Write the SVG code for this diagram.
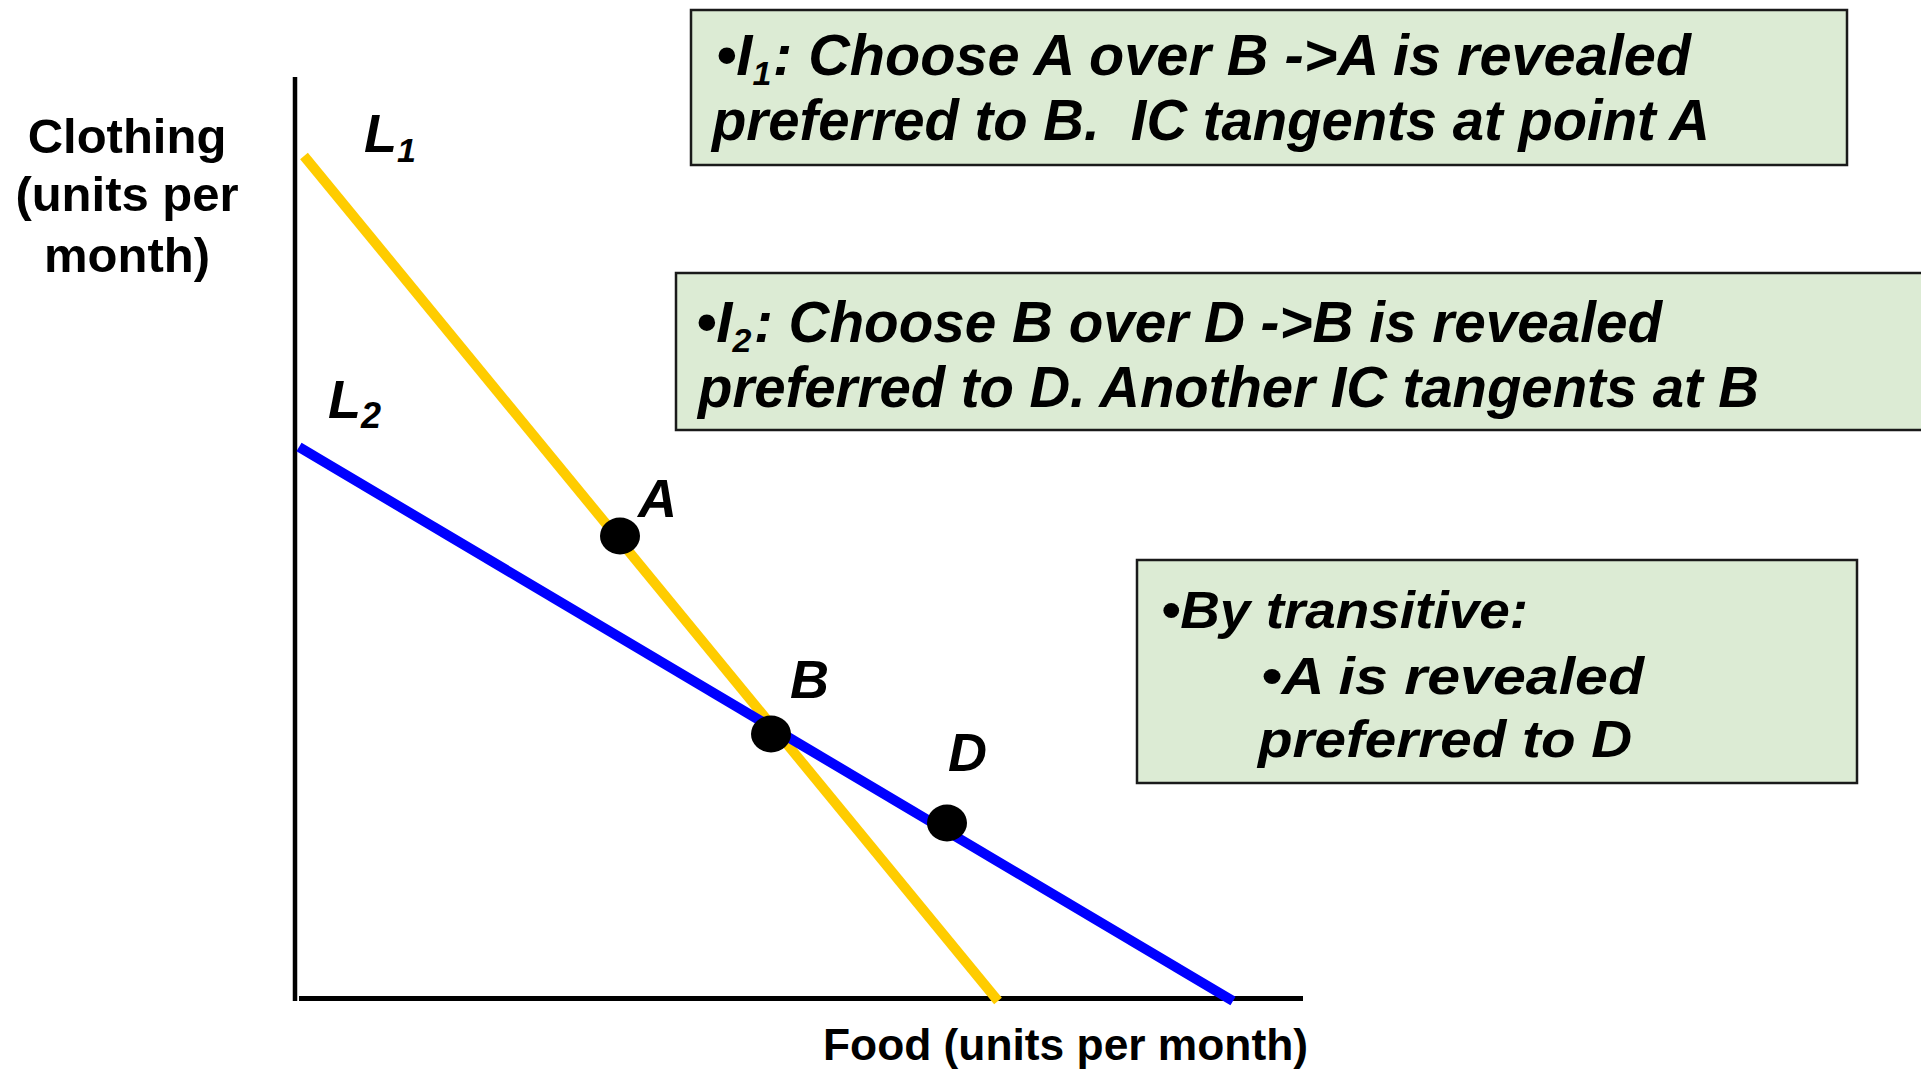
<svg xmlns="http://www.w3.org/2000/svg" width="1921" height="1080" viewBox="0 0 1921 1080">
<style>
.box{fill:#DCEBD4;stroke:#1a1a1a;stroke-width:2.5}
.bt{font-family:"Liberation Sans",Arial,sans-serif;font-weight:bold;font-style:italic;fill:#000}
.ax{font-family:"Liberation Sans",Arial,sans-serif;font-weight:bold;fill:#000}
.dot{fill:#000}
</style>
<rect width="1921" height="1080" fill="#fff"/>
<g id="axes">
<line x1="295" y1="77" x2="295" y2="1001" stroke="#000" stroke-width="4.5"/>
<line x1="299" y1="998.5" x2="1303" y2="998.5" stroke="#000" stroke-width="5"/>
<text class="ax" font-size="49" text-anchor="middle" x="127" y="153">Clothing</text>
<text class="ax" font-size="49" text-anchor="middle" x="127" y="211">(units per</text>
<text class="ax" font-size="49" text-anchor="middle" x="127" y="272">month)</text>
<text class="ax" font-size="44" x="823" y="1060" textLength="485" lengthAdjust="spacingAndGlyphs">Food (units per month)</text>
</g>
<g id="connectors">
<line id="L1" x1="304" y1="156" x2="998" y2="1001" stroke="#FFCC00" stroke-width="10"/>
<line id="L2" x1="299" y1="447" x2="1233" y2="1001" stroke="#0000FF" stroke-width="10"/>
</g>
<g id="label-L1">
<text class="bt" font-size="54" x="364" y="152">L<tspan font-size="34" dy="10">1</tspan></text>
</g>
<g id="label-L2">
<text class="bt" font-size="54" x="328" y="418">L<tspan font-size="36" dy="10">2</tspan></text>
</g>
<g id="point-A">
<ellipse class="dot" cx="620" cy="536" rx="20" ry="18.5"/>
<text class="bt" font-size="54" x="638" y="517">A</text>
</g>
<g id="point-B">
<ellipse class="dot" cx="771" cy="734" rx="20" ry="18.5"/>
<text class="bt" font-size="54" x="790" y="698">B</text>
</g>
<g id="point-D">
<ellipse class="dot" cx="947" cy="823" rx="20" ry="18.5"/>
<text class="bt" font-size="54" x="948" y="771">D</text>
</g>
<g id="box-I1">
<rect class="box" x="691" y="10" width="1156" height="155"/>
<text class="bt" font-size="58" x="716" y="75">•I<tspan font-size="34" dy="10">1</tspan></text>
<text class="bt" font-size="58" x="773" y="75" textLength="918" lengthAdjust="spacingAndGlyphs">: Choose A over B -&gt;A is revealed</text>
<text class="bt" font-size="58" x="712" y="140" textLength="998" lengthAdjust="spacingAndGlyphs" xml:space="preserve">preferred to B.  IC tangents at point A</text>
</g>
<g id="box-I2">
<rect class="box" x="676" y="273" width="1260" height="157"/>
<text class="bt" font-size="58" x="696" y="342">•I<tspan font-size="34" dy="10">2</tspan></text>
<text class="bt" font-size="58" x="754" y="342" textLength="908" lengthAdjust="spacingAndGlyphs">: Choose B over D -&gt;B is revealed</text>
<text class="bt" font-size="58" x="698" y="407" textLength="1061" lengthAdjust="spacingAndGlyphs">preferred to D. Another IC tangents at B</text>
</g>
<g id="box-transitive">
<rect class="box" x="1137" y="560" width="720" height="223"/>
<text class="bt" font-size="52" x="1161" y="628" textLength="367" lengthAdjust="spacingAndGlyphs">•By transitive:</text>
<text class="bt" font-size="52" x="1261" y="694" textLength="383" lengthAdjust="spacingAndGlyphs">•A is revealed</text>
<text class="bt" font-size="52" x="1258" y="757" textLength="374" lengthAdjust="spacingAndGlyphs">preferred to D</text>
</g>
</svg>
